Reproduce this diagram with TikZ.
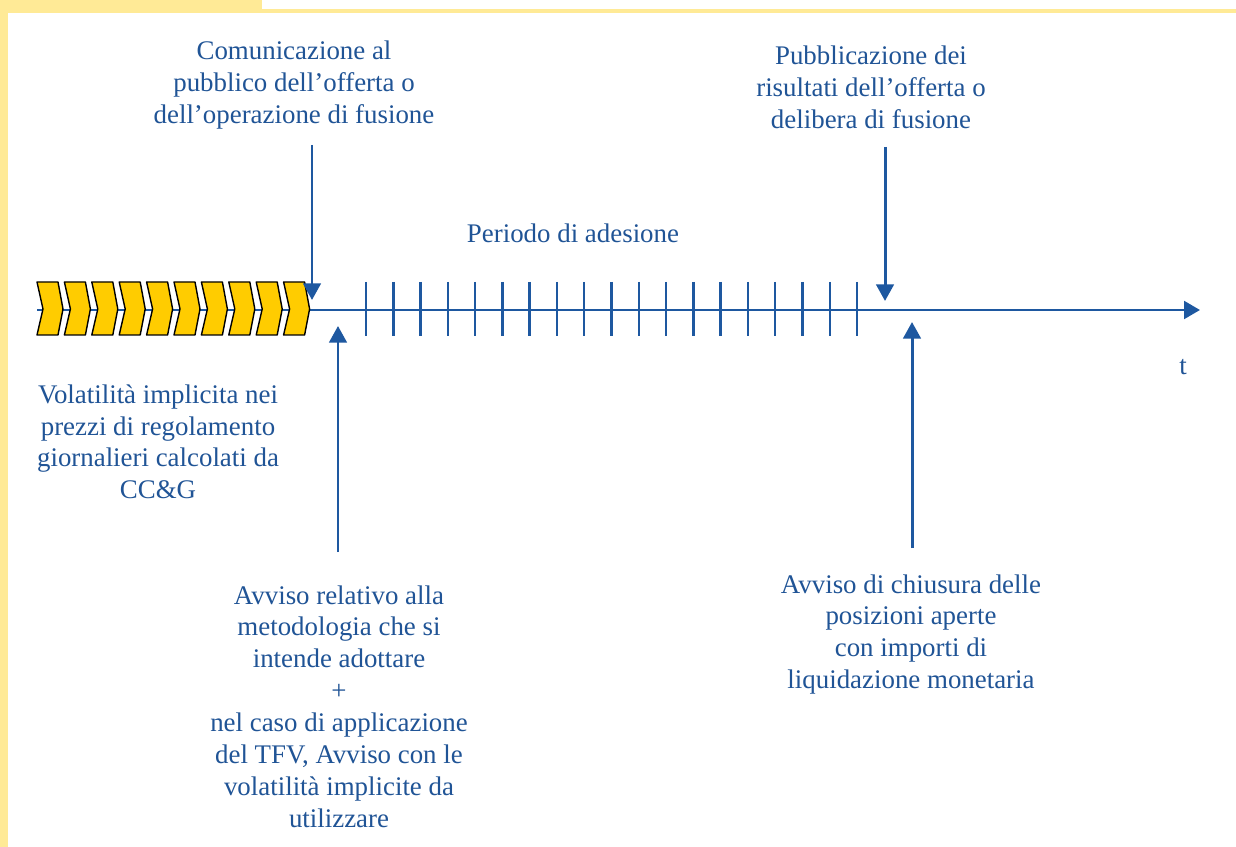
\documentclass[tikz,border=0pt]{standalone}
\usepackage{fontspec}
\setmainfont{Liberation Serif}
\usetikzlibrary{arrows.meta}
\definecolor{lineblue}{RGB}{30,88,160}
\definecolor{textblue}{RGB}{32,84,150}
\definecolor{chevyellow}{RGB}{255,204,0}
\definecolor{frameyellow}{RGB}{255,234,150}
\tikzset{
  label text/.style={text=textblue, align=center, inner sep=0pt,
    font=\fontsize{15.3}{18.2}\selectfont},
  event arrow/.style={draw=lineblue, line width=1.7pt,
    -{Triangle[width=10pt,length=9.5pt]}},
  time axis/.style={draw=lineblue, line width=1.6pt,
    -{Triangle[width=10pt,length=9pt]}},
  day tick/.style={draw=lineblue, line width=1.4pt},
  chevron/.style={fill=chevyellow, draw=black, line width=0.8pt, line join=round}
}
\begin{document}
\begin{tikzpicture}[x=0.02cm, y=-0.02cm]
        % Frame
        \useasboundingbox (0, 0) rectangle (1236, 847);
        \fill [white] (0, 0) rectangle (1236, 847);
        \fill [frameyellow] (0, 0) rectangle (262, 13);
        \fill [frameyellow] (0, 9) rectangle (1236, 13);
        \fill [frameyellow] (0, 0) rectangle (8, 847);
        % Time axis
        \coordinate (axis-start) at (37, 310);
        \coordinate (axis-end) at (1200, 310);
        \draw [time axis] (axis-start) -- (axis-end);
        % Chevrons before the announcement
        \foreach \i in {0,...,9}
            \draw [chevron] ({37+27.4*\i}, 282) -- ++(21, 0) -- ++(5, 27) -- ++(-5, 26)
                -- ++(-21, 0) -- ++(6, -26) -- cycle;
        % Days of the period
        \foreach \i in {0,...,18}
            \draw [day tick] ({366+27.28*\i}, 282) -- ({366+27.28*\i}, 336);
        % Labels
        \node (comm) [label text, anchor=north] at (294, 41)
            {Comunicazione al\\pubblico dell’offerta o\\dell’operazione di fusione};
        \node (pubbl) [label text, anchor=north] at (871, 46)
            {Pubblicazione dei\\risultati dell’offerta o\\delibera di fusione};
        \node (period) [label text, anchor=base] at (573, 243) {Periodo di adesione};
        \node (vol) [label text, anchor=north] at (158, 384)
            {Volatilità implicita nei\\prezzi di regolamento\\giornalieri calcolati da\\CC\&G};
        \node (avviso) [label text, anchor=north] at (339, 585)
            {Avviso relativo alla\\metodologia che si\\intende adottare\\+\\nel caso di applicazione\\del TFV, Avviso con le\\volatilità implicite da\\utilizzare};
        \node (chius) [label text, anchor=north] at (911, 574)
            {Avviso di chiusura delle\\posizioni aperte\\con importi di\\liquidazione monetaria};
        \node (tlabel) [label text, anchor=base] at (1183, 375) {t};
        % Arrows
        \coordinate (comm-from) at (312, 145);
        \coordinate (comm-to) at (312, 300);
        \coordinate (pubbl-from) at (885, 147);
        \coordinate (pubbl-to) at (885, 301);
        \coordinate (avviso-from) at (338, 552);
        \coordinate (avviso-to) at (338, 326);
        \coordinate (chius-from) at (912, 548);
        \coordinate (chius-to) at (912, 322);
        \draw [event arrow] (comm-from) -- (comm-to);
        \draw [event arrow] (pubbl-from) -- (pubbl-to);
        \draw [event arrow] (avviso-from) -- (avviso-to);
        \draw [event arrow] (chius-from) -- (chius-to);
    \end{tikzpicture}
\end{document}
